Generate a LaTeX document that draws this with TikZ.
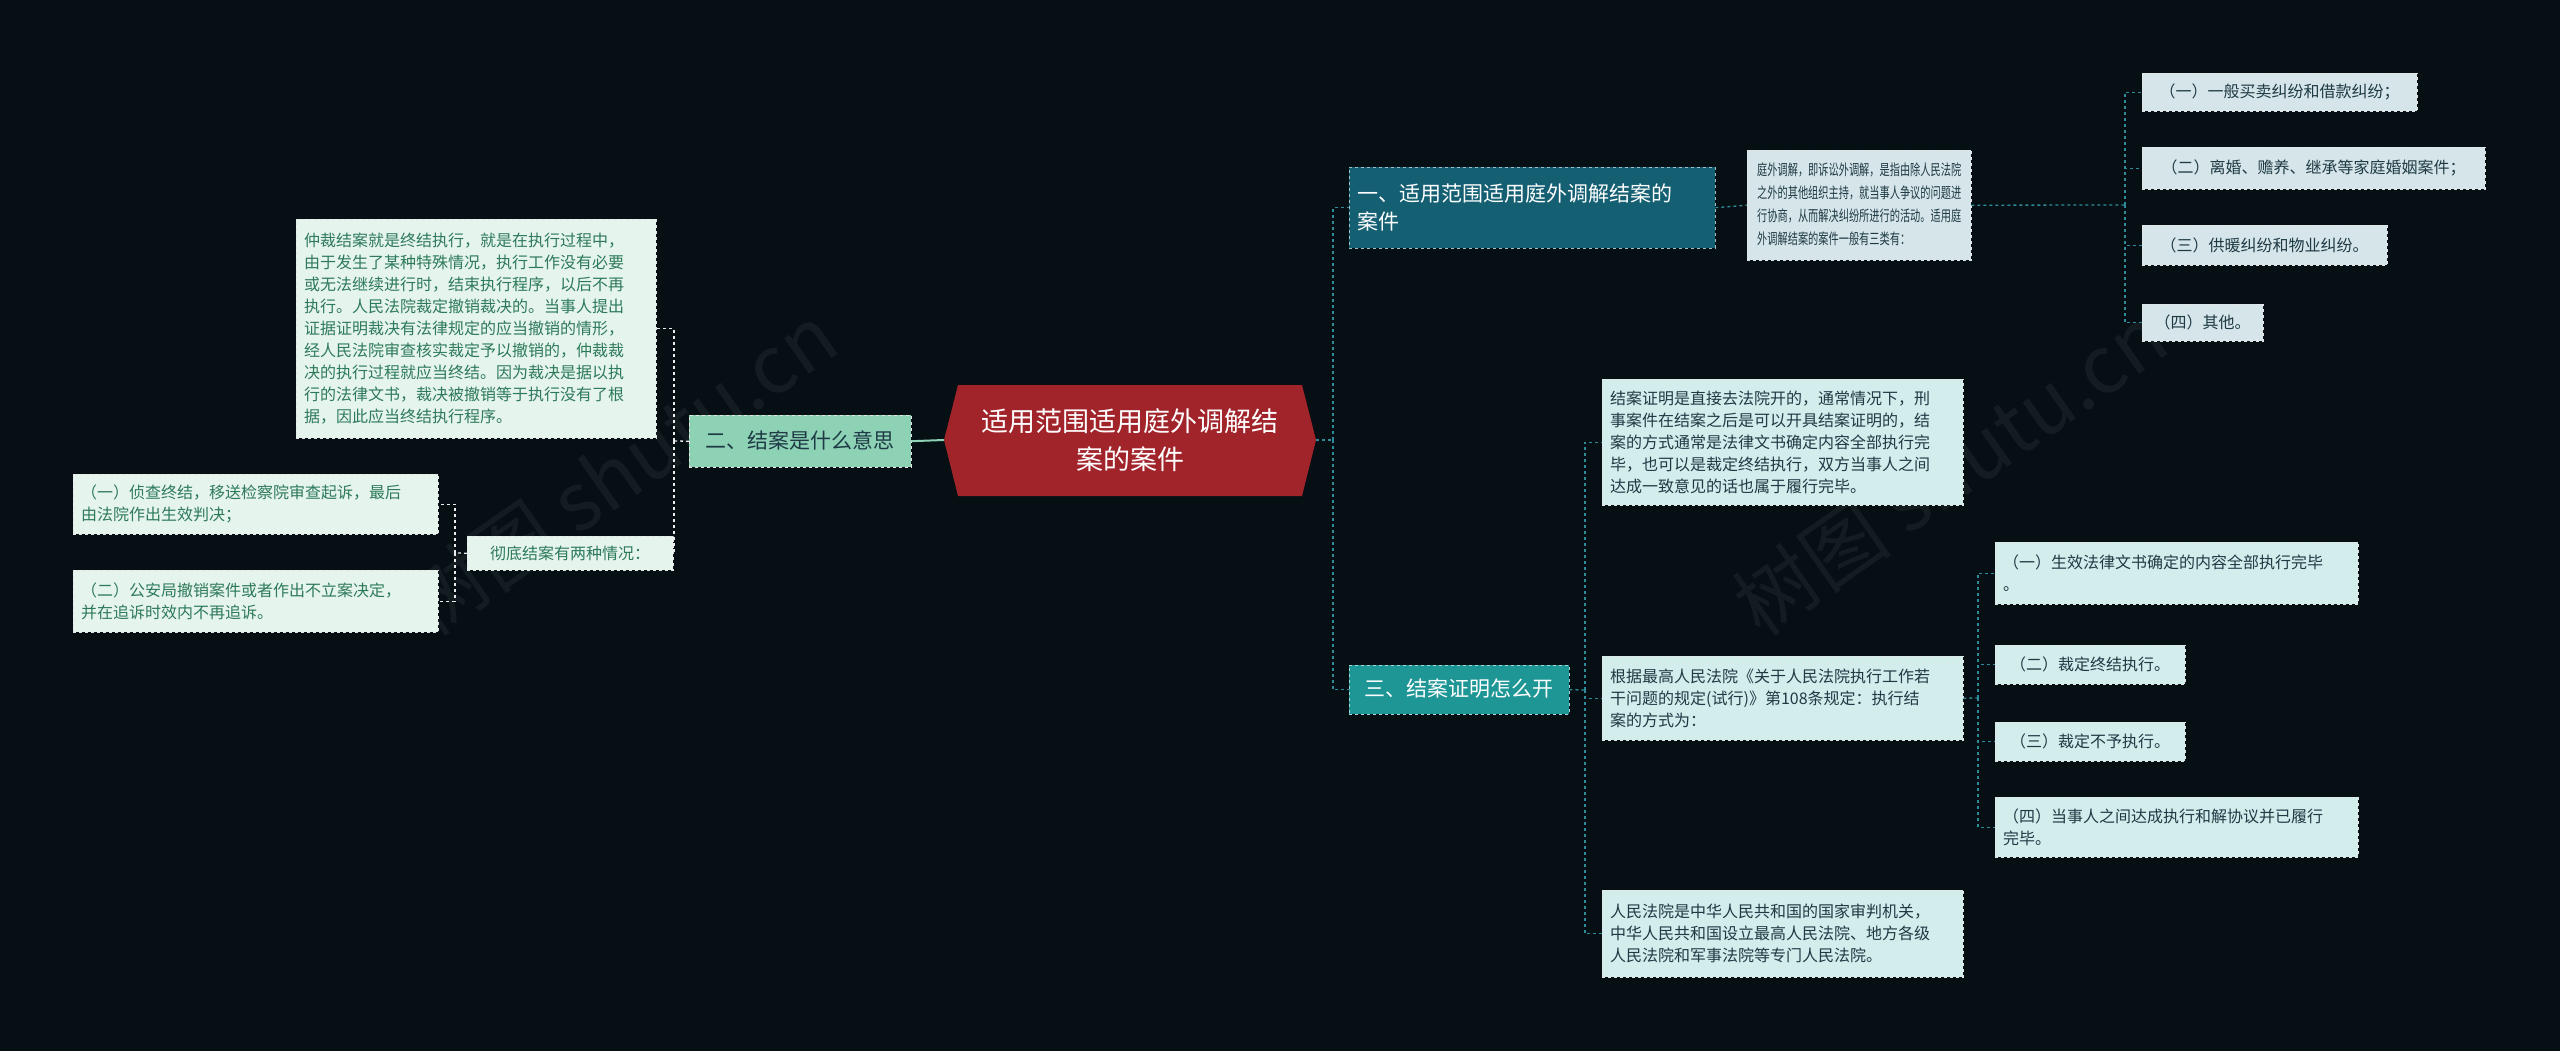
\documentclass[tikz,border=0pt]{standalone}
\usepackage{fontspec}
\setmainfont{Noto Sans CJK SC}
\definecolor{bg}{HTML}{050F14}
\definecolor{lbox}{HTML}{E6F4EE}
\definecolor{rbox}{HTML}{D5E5E9}
\definecolor{cbox}{HTML}{D3ECEC}
\definecolor{rtxt}{HTML}{1E3A44}
\definecolor{gtxt}{HTML}{2D7A5A}
\definecolor{teal1}{HTML}{155F73}
\definecolor{teal3}{HTML}{1E9696}
\definecolor{mint}{HTML}{8ED2B6}
\definecolor{red1}{HTML}{A2242B}
\definecolor{rline}{HTML}{2E8C9A}
\tikzset{
  base/.style={anchor=north west, inner xsep=8pt, inner ysep=4pt, align=left, font=\fontsize{16}{22}\selectfont},
  lb/.style={base, fill=lbox, draw=white!80!gray, dashed, text=gtxt},
  rb/.style={base, fill=rbox, draw=white!80!gray, dashed, text=rtxt},
  cb/.style={base, fill=cbox, draw=white!80!gray, dashed, text=rtxt},
  conR/.style={draw=rline, dashed, line width=1.3pt},
  conL/.style={draw=white!85!gray, dashed, line width=1.3pt},
}
\begin{document}
\begin{tikzpicture}[x=1pt,y=-1pt]
\useasboundingbox (0,0) rectangle (2560,1051);
\fill[bg] (0,0) rectangle (2560,1051);
% watermarks
\node[rotate=35, text=white, opacity=0.06, font=\fontsize{80}{80}\selectfont\itshape] at (620,470) {树图 shutu.cn};
\node[rotate=35, text=white, opacity=0.06, font=\fontsize{80}{80}\selectfont\itshape] at (1950,470) {树图 shutu.cn};
% center
\fill[red1] (944,440) -- (958,385) -- (1302,385) -- (1316,440) -- (1302,496) -- (958,496) -- cycle;
\node[minimum width=372pt, minimum height=111pt, text=white, align=center, font=\fontsize{27}{38}\selectfont] (c) at (1130,440) {适用范围适用庭外调解结\\案的案件};
% left side
\node[base, fill=mint, draw=white!80!gray, dashed, text=rtxt, font=\fontsize{21}{26}\selectfont, minimum width=222pt, minimum height=52pt, text height=16pt] (b2) at (689,415) {二、结案是什么意思};
\node[lb, text width=344pt, minimum height=219pt, inner ysep=8pt] (l1) at (296,219) {仲裁结案就是终结执行，就是在执行过程中，\\由于发生了某种特殊情况，执行工作没有必要\\或无法继续进行时，结束执行程序，以后不再\\执行。人民法院裁定撤销裁决的。当事人提出\\证据证明裁决有法律规定的应当撤销的情形，\\经人民法院审查核实裁定予以撤销的，仲裁裁\\决的执行过程就应当终结。因为裁决是据以执\\行的法律文书，裁决被撤销等于执行没有了根\\据，因此应当终结执行程序。};
\node[lb, minimum width=206pt, minimum height=34pt] (l2) at (467,536) {彻底结案有两种情况：};
\node[lb, text width=349pt, minimum height=60pt, inner ysep=6pt] (l3) at (73,474) {（一）侦查终结，移送检察院审查起诉，最后\\由法院作出生效判决；};
\node[lb, text width=349pt, minimum height=62pt, inner ysep=6pt] (l4) at (73,570) {（二）公安局撤销案件或者作出不立案决定，\\并在追诉时效内不再追诉。};
% right side
\node[base, fill=teal1, draw=white!60!teal1, dashed, text=white, font=\fontsize{21}{28}\selectfont, text width=350pt, minimum height=81pt, inner ysep=10pt] (b1) at (1349,167) {一、适用范围适用庭外调解结案的\\案件};
\node[rb, minimum width=224pt, minimum height=110pt, inner ysep=6pt, inner xsep=7pt, font=\fontsize{15}{23}\selectfont] (r0) at (1747,150) {\scalebox{0.68}[1]{\begin{tabular}{@{}l@{}}庭外调解，即诉讼外调解，是指由除人民法院\\之外的其他组织主持，就当事人争议的问题进\\行协商，从而解决纠纷所进行的活动。适用庭\\外调解结案的案件一般有三类有：\end{tabular}}};
\node[rb, minimum width=275pt, minimum height=38pt] (r1) at (2142,73) {（一）一般买卖纠纷和借款纠纷；};
\node[rb, minimum width=343pt, minimum height=42pt] (r2) at (2142,147) {（二）离婚、赡养、继承等家庭婚姻案件；};
\node[rb, minimum width=245pt, minimum height=40pt] (r3) at (2142,225) {（三）供暖纠纷和物业纠纷。};
\node[rb, minimum width=121pt, minimum height=37pt] (r4) at (2142,304) {（四）其他。};
\node[base, fill=teal3, draw=white!60!teal3, dashed, text=white, font=\fontsize{21}{26}\selectfont, minimum width=220pt, minimum height=49pt, text height=16pt] (b3) at (1349,665) {三、结案证明怎么开};
\node[cb, text width=345pt, minimum height=126pt, inner ysep=6pt] (s1) at (1602,379) {结案证明是直接去法院开的，通常情况下，刑\\事案件在结案之后是可以开具结案证明的，结\\案的方式通常是法律文书确定内容全部执行完\\毕，也可以是裁定终结执行，双方当事人之间\\达成一致意见的话也属于履行完毕。};
\node[cb, text width=345pt, minimum height=84pt, inner ysep=6pt] (s2) at (1602,656) {根据最高人民法院《关于人民法院执行工作若\\干问题的规定(试行)》第108条规定：执行结\\案的方式为：};
\node[cb, text width=345pt, minimum height=87pt, inner ysep=6pt] (s3) at (1602,890) {人民法院是中华人民共和国的国家审判机关，\\中华人民共和国设立最高人民法院、地方各级\\人民法院和军事法院等专门人民法院。};
\node[cb, text width=347pt, minimum height=62pt, inner ysep=6pt] (t1) at (1995,542) {（一）生效法律文书确定的内容全部执行完毕\\。};
\node[cb, minimum width=190pt, minimum height=39pt] (t2) at (1995,645) {（二）裁定终结执行。};
\node[cb, minimum width=190pt, minimum height=39pt] (t3) at (1995,722) {（三）裁定不予执行。};
\node[cb, text width=347pt, minimum height=60pt, inner ysep=6pt] (t4) at (1995,797) {（四）当事人之间达成执行和解协议并已履行\\完毕。};
% connectors right
\coordinate (jr) at (1333,440);
\draw[conR] (c.east) -- (jr);
\draw[conR] (jr) |- (b1.west);
\draw[conR] (jr) |- (b3.west);
\draw[conR] (b1.east) -- (r0.west);
\coordinate (j1) at (2125,205);
\draw[conR] (r0.east) -- (j1);
\foreach \n in {r1,r2,r3,r4} \draw[conR] (j1) |- (\n.west);
\coordinate (j3) at (1585,690);
\draw[conR] (b3.east) -- (j3);
\foreach \n in {s1,s2,s3} \draw[conR] (j3) |- (\n.west);
\coordinate (j4) at (1978,698);
\draw[conR] (s2.east) -- (j4);
\foreach \n in {t1,t2,t3,t4} \draw[conR] (j4) |- (\n.west);
% connectors left
\draw[draw=mint, line width=2pt] (c.west) -- (b2.east);
\coordinate (jl) at (674,441);
\draw[conL] (b2.west) -- (jl);
\draw[conL] (jl) |- (l1.east);
\draw[conL] (jl) |- (l2.east);
\coordinate (jl2) at (455,553);
\draw[conL] (l2.west) -- (jl2);
\draw[conL] (jl2) |- (l3.east);
\draw[conL] (jl2) |- (l4.east);
\end{tikzpicture}
\end{document}
